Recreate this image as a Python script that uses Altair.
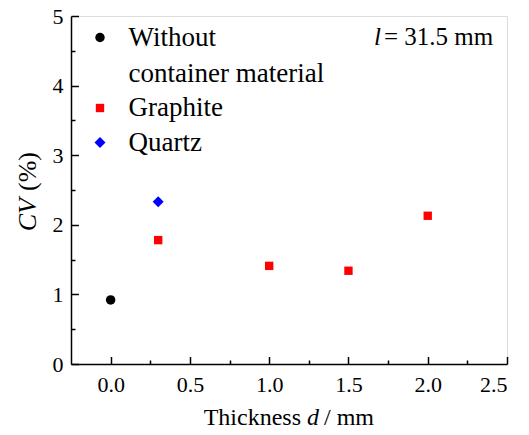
import altair as alt
import pandas as pd

# ---- data ----
series_names = ["Without container material", "Graphite", "Quartz"]
series = ["Without container material", "Graphite", "Graphite", "Graphite", "Graphite", "Quartz"]
thickness = [0.0, 0.3, 1.0, 1.5, 2.0, 0.3]
cv = [0.92, 1.78, 1.41, 1.34, 2.13, 2.33]

x_major = [0.0, 0.5, 1.0, 1.5, 2.0, 2.5]
x_minor = [0.25, 0.75, 1.25, 1.75, 2.25]
y_major = [0, 1, 2, 3, 4, 5]
y_minor = [0.5, 1.5, 2.5, 3.5, 4.5]

x_title = ["Thickness", "d", "/ mm"]
y_title = ["CV", "(%)"]
note = ["l", "= 31.5 mm"]

colors = ["#000000", "#ff0000", "#0000ff"]
shapes = ["circle", "square", "diamond"]
sizes = [90, 70, 121]

FONT = "'Liberation Serif', 'Times New Roman', Tinos, serif"
W, H = 436, 348

df = pd.DataFrame({"d": thickness, "cv": cv, "series": series})

xscale = alt.Scale(domain=[-0.25, 2.5], nice=False, zero=False)
yscale = alt.Scale(domain=[0, 5], nice=False, zero=False)

legend = alt.Legend(
    title=None, orient="none", legendX=15.5, legendY=8, padding=0,
    labelFont=FONT, labelFontSize=27, labelColor="black", labelOffset=15,
    labelLimit=400, rowPadding=6.5, symbolStrokeWidth=0, symbolOpacity=1,
    labelExpr="datum.label == 'Without container material' ? ['Without', 'container material'] : datum.label",
)

points = alt.Chart(df).mark_point(filled=True, opacity=1, strokeWidth=0).encode(
    x=alt.X("d:Q", scale=xscale, axis=alt.Axis(
        orient="bottom", values=x_major, format=".1f", ticks=False, grid=False,
        labelPadding=10, labelFont=FONT, labelFontSize=22, labelColor="black",
        domainColor="black", domainWidth=1.5, title=None)),
    y=alt.Y("cv:Q", scale=yscale, axis=alt.Axis(
        orient="left", values=y_major, format="d", ticks=False, grid=False,
        labelPadding=8, labelFont=FONT, labelFontSize=22, labelColor="black",
        domainColor="black", domainWidth=1.5, title=None)),
    color=alt.Color("series:N", scale=alt.Scale(domain=series_names, range=colors), legend=legend),
    shape=alt.Shape("series:N", scale=alt.Scale(domain=series_names, range=shapes), legend=legend),
    size=alt.Size("series:N", scale=alt.Scale(type="ordinal", domain=series_names, range=sizes), legend=legend),
)

def tick_layer(xvals, yvals, size):
    return alt.Chart(df).mark_point(opacity=0).encode(
        x=alt.X("d:Q", scale=xscale, axis=alt.Axis(
            orient="top", offset=-H, values=xvals, labels=False, domain=False, grid=False,
            tickSize=size, tickWidth=1.5, tickColor="black", title=None)),
        y=alt.Y("cv:Q", scale=yscale, axis=alt.Axis(
            orient="right", offset=-W, values=yvals, labels=False, domain=False, grid=False,
            tickSize=size, tickWidth=1.5, tickColor="black", title=None)),
    )

major = tick_layer(x_major, y_major, 7.5)
minor = tick_layer(x_minor, y_minor, 4)

one = pd.DataFrame({"k": [0]})

def txt(s, x, y, align, italic=False, size=24, angle=0, baseline="alphabetic"):
    kw = dict(font=FONT, fontSize=size, align=align, baseline=baseline, color="black")
    if italic:
        kw["fontStyle"] = "italic"
    if angle:
        kw["angle"] = angle
    return alt.Chart(one).mark_text(**kw).encode(
        x=alt.value(x), y=alt.value(y), text=alt.value(s))

xt_y = 409
titles = [
    txt(x_title[0], 230, xt_y, "right"),
    txt(x_title[1], 236, xt_y, "left", italic=True),
    txt(x_title[2], 253, xt_y, "left"),
    txt(y_title[0], -43, 182, "right", italic=True, size=26, angle=270, baseline="middle"),
    txt(y_title[1], -43, 175, "left", size=26, angle=270, baseline="middle"),
    txt(note[0], 310, 21, "right", italic=True, size=25, baseline="middle"),
    txt(note[1], 313, 21, "left", size=25, baseline="middle"),
]

chart = alt.layer(points, major, minor, *titles).resolve_axis(
    x="independent", y="independent"
).properties(
    width=W, height=H,
    autosize=alt.AutoSizeParams(type="none"),
    padding={"left": 63, "top": 8, "right": 14, "bottom": 71},
).configure_view(
    stroke="black", strokeWidth=1
).configure(
    style={"guide-label": {"lineHeight": 36}}
)

chart.save("out.html", embed_options={"renderer": "svg", "actions": False})
